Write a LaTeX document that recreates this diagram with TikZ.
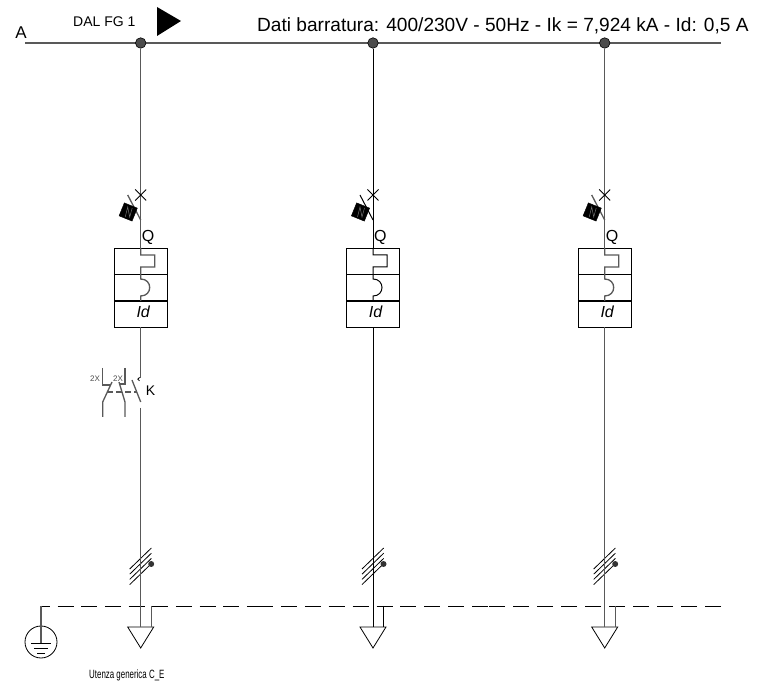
\documentclass[tikz,border=0pt]{standalone}
\usepackage{fontspec}
\setmainfont{Liberation Sans}
\definecolor{wire}{gray}{0.35}
\tikzset{
  x=1pt,y=-1pt,
  wireline/.style={draw=wire,line width=1.3pt},
  darkwire/.style={draw=black,line width=1pt},
  thin line/.style={draw=black,line width=0.8pt},
  neutral/.style={draw=black,line width=0.9pt},
  junction/.style={circle,draw=black,fill=black!70,line width=0.6pt,minimum size=10.5pt,inner sep=0pt},
  relaybox/.style={draw=black,fill=white,line width=0.9pt,minimum width=53pt,minimum height=79pt,inner sep=0pt},
  label/.style={inner sep=0pt,font=\fontsize{16}{16}\selectfont},
  tiny label/.style={inner sep=0pt,font=\fontsize{8}{8}\selectfont,text=black!70},
  actuator/.style={draw=black,fill=black,minimum size=14pt,inner sep=0pt,rotate=-22},
  load/.style={draw=black,line width=0.8pt,line join=miter},
}
\begin{document}
\begin{tikzpicture}
\useasboundingbox (0,0) rectangle (764,684);
\coordinate (busL) at (25,43);
\coordinate (busR) at (721,43);
\draw[wireline] (busL) -- (busR);
\node[label,anchor=base,font=\fontsize{17}{17}\selectfont] (lblA) at (21,39) {A};
\node[inner sep=0pt,anchor=base west,font=\fontsize{14}{14}\selectfont] (lblDal) at (73,27) {DAL FG 1};
\fill[black] (157,7) -- (157,36) -- (181,21) -- cycle;
\node[inner sep=0pt,anchor=base west,font=\fontsize{19.1}{19.1}\selectfont] (lblTitle) at (257,32) {Dati barratura: 400/230V - 50Hz - Ik = 7,924 kA - Id: 0,5 A};
\coordinate (nL) at (41,606);
\coordinate (nR) at (721,606);
\draw[neutral,dash pattern=on 16pt off 7.65pt,dash phase=7pt] (nL) -- (263,606);
\draw[neutral,dash pattern=on 16pt off 7.9pt] (257,606) -- (488,606);
\draw[neutral,dash pattern=on 16pt off 8pt] (nR) -- (489,606);
\node[circle,draw=black,line width=0.8pt,minimum size=32pt,inner sep=0pt] (earth) at (41,642) {};
\draw[wireline] (nL) -- (41,643);
\draw[thin line] (31,643) -- (51,643) (34,648) -- (48,648) (37,653) -- (45,653);
\foreach \n/\x/\wst in {a/140.7/wireline,b/373/darkwire,c/604.7/wireline}{
  \begin{scope}[shift={(\x,0)}]
  \node[junction] (j\n) at (0,43) {};
  \coordinate (t\n) at (0,220);
  \draw[\wst] (j\n) -- (t\n);
  \draw[thin line] (-5.5,189.5) -- (5.5,200.5) (-5.5,200.5) -- (5.5,189.5);
  \draw[\wst] (t\n) -- (-13,195);
  \node[actuator] (act\n) at (-12.5,212) {};
  \draw[black!55,line width=0.5pt] (-15.5,217) -- (-13,207) -- (-11,217) -- (-8.5,208);
  \node[label,anchor=base west] (q\n) at (1,242) {Q};
  \node[relaybox] (box\n) at (0,287.5) {};
  \draw[thin line] (box\n.west |- 0,274) -- (box\n.east |- 0,274);
  \draw[draw=black,line width=1.6pt] (box\n.west |- 0,301) -- (box\n.east |- 0,301);
  \node[inner sep=0pt,anchor=base,font=\itshape\fontsize{16}{16}\selectfont] (id\n) at (2.5,318) {Id};
  \draw[\wst] (t\n) -- (0,248);
  \draw[\wst] (0,248) -- (0,255) -- (14,255) -- (14,267) -- (0,267) -- (0,279)
     .. controls (12,279) and (12,296) .. (0,296) -- (0,301);
  \foreach \d in {0,5.2,10.4,15.6}{
    \draw[thin line] (-11,569+\d) -- (10.7,548+\d);
  }
  \fill[black!80] (10.5,564) circle (3pt);
  \coordinate (l\n) at (0,627);
  \draw[load] (-13,627) -- (13,627) -- (0,648) -- cycle;
  \draw[\wst] (10.5,606) -- (10.5,627);
  \end{scope}
}
% first column: contactor
\draw[wireline] (boxa.south) -- (140.7,378);
\draw[thin line] (139.5,377.5) arc (90:270:1.7pt);
\draw[wireline] (132,380) -- (140.7,402);
\draw[wireline] (140.7,408) -- (la);
\draw[wireline] (102.7,368) -- (102.7,385) -- (110,385);
\draw[wireline] (112,382) -- (102.7,402) -- (102.7,417);
\draw[wireline] (125,368) -- (125,384) -- (119,384);
\draw[wireline] (119,382) -- (125,402) -- (125,417);
\draw[wireline,dash pattern=on 6pt off 3pt] (107,392) -- (137,392);
\node[tiny label] (x1) at (95,379) {2X};
\node[tiny label] (x2) at (118,379) {2X};
\node[label,anchor=base west,font=\fontsize{14}{14}\selectfont] (lblK) at (145.7,396) {K};
% other columns
\draw[darkwire] (boxb.south) -- (lb);
\draw[wireline] (boxc.south) -- (lc);
\node[inner sep=0pt,anchor=base west,font=\fontsize{12}{12}\selectfont] (lblU) at (89,679) {\scalebox{0.66}[1]{Utenza generica C\_E}};
\end{tikzpicture}
\end{document}
